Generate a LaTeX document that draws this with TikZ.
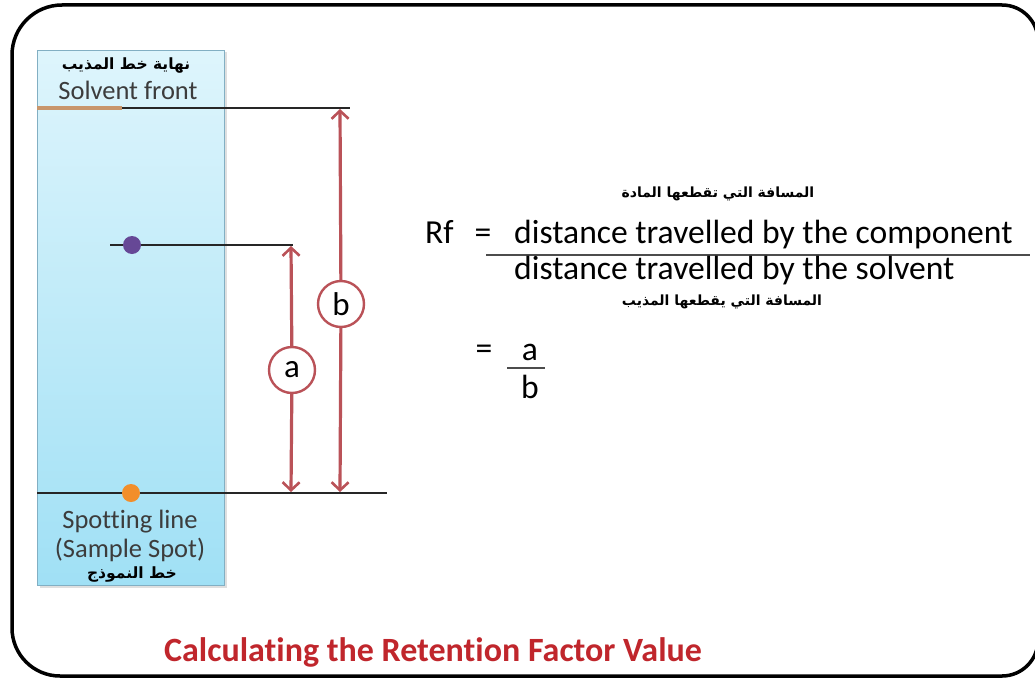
\documentclass[tikz,border=0pt]{standalone}
\usepackage{fontspec}
\setmainfont{Carlito}[Ligatures=NoCommon]
\newfontfamily\arabicfont[Script=Arabic]{DejaVu Sans}
\TeXXeTstate=1
\usetikzlibrary{arrows.meta,shadows}
\definecolor{arrowred}{RGB}{186,82,88}
\definecolor{platetop}{RGB}{222,245,252}
\definecolor{platebot}{RGB}{160,224,245}
\definecolor{plateedge}{RGB}{130,175,195}
\definecolor{frontline}{RGB}{200,150,108}
\definecolor{purpledot}{RGB}{102,72,150}
\definecolor{orangedot}{RGB}{242,142,42}
\definecolor{titlered}{RGB}{192,38,44}
\definecolor{platetext}{RGB}{60,60,60}
\tikzset{
  arr/.style={draw=arrowred, line width=3.2pt, -{Straight Barb[length=8pt,width=17pt,line width=2.6pt]}},
  lab/.style={circle, draw=arrowred, line width=2.4pt, fill=white, minimum size=46pt, inner sep=0pt, font=\fontsize{33}{33}\selectfont},
  dot/.style={circle, inner sep=0pt, minimum size=18pt},
  thinline/.style={draw=black!85, line width=1.2pt},
  platetxt/.style={text=platetext, font=\fontsize{26.5}{28}\selectfont, inner sep=0pt},
  arlabel/.style={inner sep=0pt, font=\arabicfont\bfseries\fontsize{14}{16}\selectfont},
  arplate/.style={inner sep=0pt, font=\arabicfont\bfseries\fontsize{15.5}{17}\selectfont},
  formula/.style={inner sep=0pt, font=\fontsize{33.6}{38}\selectfont},
  frame/.style={line width=3.5pt},
}
\begin{document}
\begin{tikzpicture}[x=1pt,y=-1pt]
\useasboundingbox (0,0) rectangle (1035,677);
\clip (0,0) rectangle (1035,677);
\fill[white] (0,0) rectangle (1035,677);
% outer frame
\draw[frame] (12,55) arc (180:270:50) -- (1002,5) arc (270:360:36) -- (1038,640)
  arc (0:90:36) -- (60,676) arc (90:180:48) -- cycle;
% plate
\node[draw=plateedge, line width=1pt, top color=platetop, bottom color=platebot,
      drop shadow={opacity=0.25, shadow xshift=2pt, shadow yshift=-2pt},
      minimum width=187pt, minimum height=535pt, inner sep=0pt, anchor=north west] (plate) at (37,50) {};
% plate texts
\node[arplate] (ar1) at (126,66) {\beginR نهاية خط المذيب\endR};
\node[platetxt, anchor=base] (sf) at (128,99) {Solvent front};
\node[platetxt, anchor=base] (sl) at (130,528) {Spotting line};
\node[platetxt, anchor=base] (ss) at (130,557) {(Sample Spot)};
\node[arplate] (ar2) at (132,574) {\beginR خط النموذج\endR};
% solvent front line
\coordinate (sfL) at (37,108);
\coordinate (sfM) at (122,108);
\coordinate (sfR) at (350,108);
\draw[frontline, line width=3.5pt] (sfL) -- (sfM);
\draw[thinline] (sfM) -- (sfR);
% component spot
\coordinate (pL) at (110,245);
\coordinate (pR) at (293,245);
\draw[thinline] (pL) -- (pR);
\node[dot, fill=purpledot] (pdot) at (132,245) {};
% spotting line
\coordinate (spL) at (37,493);
\coordinate (spR) at (387,493);
\draw[thinline] (spL) -- (spR);
\node[dot, fill=orangedot] (odot) at (131,493) {};
% arrow b
\coordinate (bT) at (340,109);
\coordinate (bB) at (340,492);
\node[lab] (bc) at (341,304) {b};
\draw[arr] (bc) -- (bT);
\draw[arr] (bc) -- (bB);
% arrow a
\coordinate (aT) at (291,246);
\coordinate (aB) at (291,492);
\node[lab] (ac) at (292,370) {a};
\draw[arr] (ac) -- (aT);
\draw[arr] (ac) -- (aB);
% formula
\node[arlabel] (ar3) at (718,194) {\beginR المسافة التي تقطعها المادة\endR};
\node[formula, anchor=base west] (rf) at (425,243) {Rf};
\node[formula] (eq1) at (483,236) {=};
\node[formula, anchor=base west] (num) at (514,243) {distance travelled by the component};
\coordinate (fL) at (486,255);
\coordinate (fR) at (1030,255);
\draw[draw=black!70, line width=1.3pt] (fL) -- (fR);
\node[formula, anchor=base west] (den) at (514,279) {distance travelled by the solvent};
\node[arlabel] (ar4) at (722,302) {\beginR المسافة التي يقطعها المذيب\endR};
\node[formula] (eq2) at (484,352) {=};
\node[formula, anchor=base] (fa) at (530,360) {a};
\coordinate (gL) at (507,368);
\coordinate (gR) at (545,368);
\draw[draw=black!70, line width=1.3pt] (gL) -- (gR);
\node[formula, anchor=base] (fb) at (530,398) {b};
% title
\node[anchor=base, inner sep=0pt, text=titlered, font=\bfseries\fontsize{34}{38}\selectfont] (title) at (433,661) {Calculating the Retention Factor Value};
\end{tikzpicture}
\end{document}
